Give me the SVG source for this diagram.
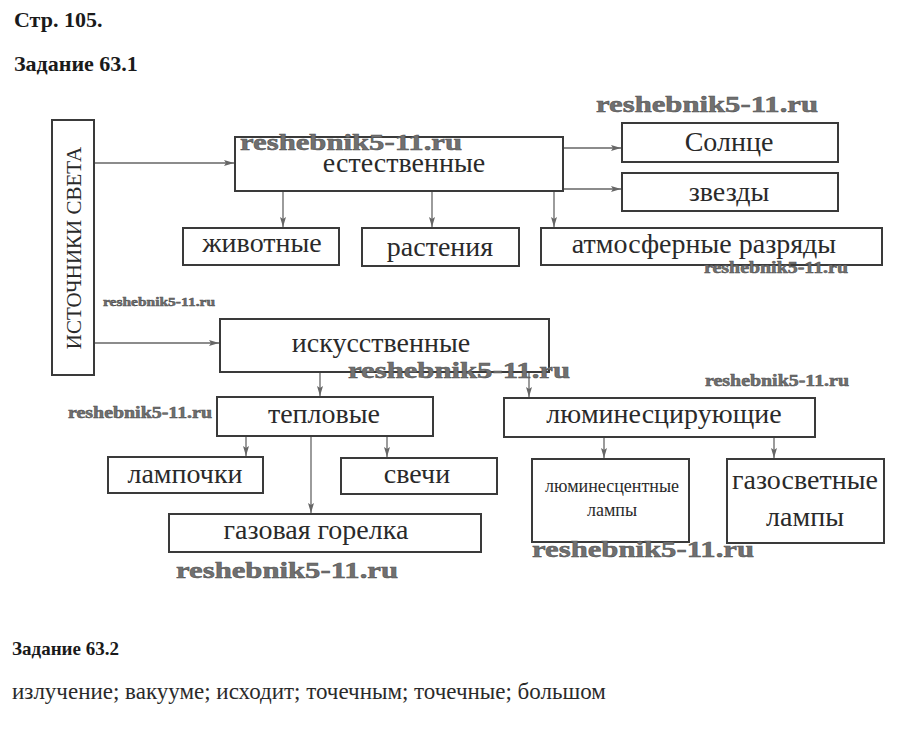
<svg xmlns="http://www.w3.org/2000/svg" width="904" height="753" viewBox="0 0 904 753">
<defs>
<marker id="ah" viewBox="0 0 10 6" refX="10" refY="3" markerWidth="10" markerHeight="6" markerUnits="userSpaceOnUse" orient="auto">
<path d="M0,0 L10,3 L0,6 L2,3 Z" fill="#666"/>
</marker>
<style>
.box{fill:#fff;stroke:#3a3a3a;stroke-width:2}
.lbl{font-family:'Liberation Serif','DejaVu Serif',serif;fill:#2a2a2a;text-anchor:middle}
.hd{font-family:'Liberation Serif','DejaVu Serif',serif;font-weight:bold;fill:#1a1a1a}
.body{font-family:'Liberation Serif','DejaVu Serif',serif;fill:#2a2a2a}
.con{stroke:#666;stroke-width:1.3;fill:none;marker-end:url(#ah)}
.wm{font-family:'Liberation Serif','DejaVu Serif',serif;font-weight:bold;fill:#707070;stroke:#505050;stroke-width:0.5}
</style>
</defs>
<rect width="904" height="753" fill="#fff"/>
<text class="hd" x="14" y="27" font-size="22">Стр. 105.</text>
<text class="hd" x="14" y="71" font-size="22">Задание 63.1</text>
<text class="hd" x="12" y="655" font-size="19">Задание 63.2</text>
<text class="body" x="12" y="699" font-size="23">излучение; вакууме; исходит; точечным; точечные; большом</text>

<g id="connectors">
<line class="con" x1="95" y1="163" x2="234" y2="163"/>
<line class="con" x1="95" y1="343" x2="219" y2="343"/>
<line class="con" x1="563" y1="148" x2="621" y2="148"/>
<line class="con" x1="563" y1="189" x2="621" y2="189"/>
<line class="con" x1="283" y1="191" x2="283" y2="227"/>
<line class="con" x1="432" y1="191" x2="432" y2="227"/>
<line class="con" x1="554" y1="191" x2="554" y2="227"/>
<line class="con" x1="320" y1="372" x2="320" y2="396"/>
<line class="con" x1="529" y1="372" x2="529" y2="397"/>
<line class="con" x1="246" y1="436" x2="246" y2="456"/>
<line class="con" x1="387" y1="436" x2="387" y2="457"/>
<line class="con" x1="311" y1="436" x2="311" y2="513"/>
<line class="con" x1="604" y1="437" x2="604" y2="458"/>
<line class="con" x1="774" y1="437" x2="774" y2="458"/>
</g>

<g id="n-sources">
<rect class="box" x="52" y="120" width="42" height="255"/>
<text class="lbl" font-size="21" transform="translate(81,248) rotate(-90)">ИСТОЧНИКИ СВЕТА</text>
</g>
<g id="n-natural">
<rect class="box" x="235" y="137" width="328" height="54"/>
<text class="lbl" x="404" y="172" font-size="28">естественные</text>
</g>
<g id="n-sun">
<rect class="box" x="622" y="123" width="216" height="39"/>
<text class="lbl" x="729" y="151" font-size="28">Солнце</text>
</g>
<g id="n-stars">
<rect class="box" x="622" y="173" width="216" height="38"/>
<text class="lbl" x="729" y="201" font-size="28">звезды</text>
</g>
<g id="n-animals">
<rect class="box" x="183" y="228" width="156" height="37"/>
<text class="lbl" x="262" y="252" font-size="28">животные</text>
</g>
<g id="n-plants">
<rect class="box" x="362" y="228" width="157" height="38"/>
<text class="lbl" x="440" y="256" font-size="28">растения</text>
</g>
<g id="n-lightning">
<rect class="box" x="541" y="228" width="341" height="37"/>
<text class="lbl" x="704" y="253" font-size="28">атмосферные разряды</text>
</g>
<g id="n-artificial">
<rect class="box" x="220" y="319" width="329" height="53"/>
<text class="lbl" x="381" y="352" font-size="28">искусственные</text>
</g>
<g id="n-thermal">
<rect class="box" x="217" y="397" width="216" height="39"/>
<text class="lbl" x="324" y="423" font-size="28">тепловые</text>
</g>
<g id="n-bulbs">
<rect class="box" x="108" y="457" width="155" height="36"/>
<text class="lbl" x="185" y="483" font-size="28">лампочки</text>
</g>
<g id="n-candles">
<rect class="box" x="341" y="458" width="156" height="36"/>
<text class="lbl" x="417" y="483" font-size="28">свечи</text>
</g>
<g id="n-gasburner">
<rect class="box" x="169" y="514" width="312" height="38"/>
<text class="lbl" x="316" y="539" font-size="28">газовая горелка</text>
</g>
<g id="n-luminescent">
<rect class="box" x="504" y="398" width="311" height="39"/>
<text class="lbl" x="664" y="423" font-size="28">люминесцирующие</text>
</g>
<g id="n-fluorescent">
<rect class="box" x="532" y="459" width="157" height="83"/>
<text class="lbl" x="612" y="492" font-size="18">люминесцентные</text>
<text class="lbl" x="612" y="516" font-size="18">лампы</text>
</g>
<g id="n-gasdischarge">
<rect class="box" x="727" y="459" width="157" height="84"/>
<text class="lbl" x="805" y="489" font-size="28">газосветные</text>
<text class="lbl" x="805" y="526" font-size="28">лампы</text>
</g>

<g id="watermarks">
<text class="wm" x="596" y="112" font-size="24" textLength="222" lengthAdjust="spacingAndGlyphs">reshebnik5-11.ru</text>
<text class="wm" x="240" y="150" font-size="24" textLength="222" lengthAdjust="spacingAndGlyphs">reshebnik5-11.ru</text>
<text class="wm" x="704" y="273" font-size="16" textLength="144" lengthAdjust="spacingAndGlyphs">reshebnik5-11.ru</text>
<text class="wm" x="103" y="306" font-size="13" textLength="112" lengthAdjust="spacingAndGlyphs">reshebnik5-11.ru</text>
<text class="wm" x="348" y="378" font-size="24" textLength="222" lengthAdjust="spacingAndGlyphs">reshebnik5-11.ru</text>
<text class="wm" x="705" y="386" font-size="16" textLength="144" lengthAdjust="spacingAndGlyphs">reshebnik5-11.ru</text>
<text class="wm" x="68" y="418" font-size="16" textLength="144" lengthAdjust="spacingAndGlyphs">reshebnik5-11.ru</text>
<text class="wm" x="532" y="557" font-size="24" textLength="222" lengthAdjust="spacingAndGlyphs">reshebnik5-11.ru</text>
<text class="wm" x="176" y="578" font-size="24" textLength="222" lengthAdjust="spacingAndGlyphs">reshebnik5-11.ru</text>
</g>
</svg>
